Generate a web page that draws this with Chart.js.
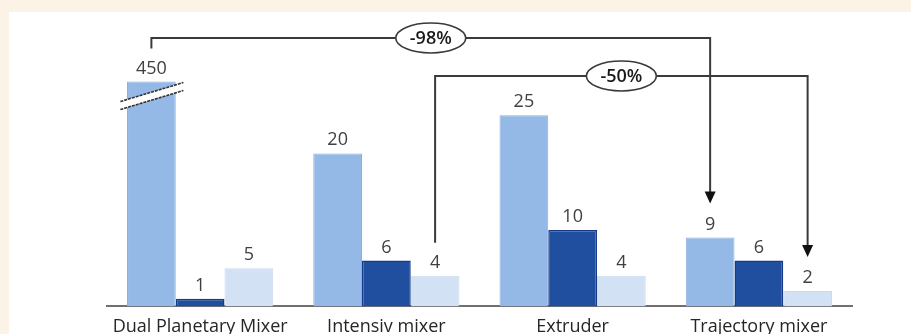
<!DOCTYPE html>
<html>
<head>
<meta charset="utf-8">
<script src="https://cdn.jsdelivr.net/npm/chart.js@4.4.1/dist/chart.umd.min.js"></script>
<style>
  html, body { margin:0; padding:0; width:911px; height:334px; overflow:hidden; background:#faf3e6; }
  #panel { position:absolute; left:9px; top:12px; right:0; bottom:0; background:#ffffff; }
  #c { position:absolute; left:0; top:0; }
</style>
</head>
<body>
<div id="panel"></div>
<canvas id="c" width="911" height="359"></canvas>
<script>
// ---- data ----
const categories = ["Dual Planetary Mixer", "Intensiv mixer", "Extruder", "Trajectory mixer"];
const seriesA = [450, 20, 25, 9];   // light blue
const seriesB = [1, 6, 10, 6];      // dark blue
const seriesC = [5, 4, 4, 2];       // pale blue
const brokenCap = 29.4;             // axis break: values above this are drawn cut
const yMax = 29.6;
const arrows = [
  { label: "-98%", from: [0, 0], to: [0, 3], lineY: 38 },
  { label: "-50%", from: [2, 1], to: [2, 3], lineY: 76 }
];

const FONT = "'Open Sans', 'Noto Sans', sans-serif";
const displayA = seriesA.map(v => Math.min(v, brokenCap));
const rawSeries = [seriesA, seriesB, seriesC];

const labelPlugin = {
  id: 'valueLabels',
  afterDatasetsDraw(chart) {
    const ctx = chart.ctx;
    ctx.save();
    ctx.font = "18px " + FONT;
    ctx.fillStyle = "#404040";
    ctx.textAlign = "center";
    ctx.textBaseline = "alphabetic";
    chart.data.datasets.forEach((ds, di) => {
      chart.getDatasetMeta(di).data.forEach((bar, i) => {
        ctx.fillText(String(rawSeries[di][i]), bar.x, bar.y - 8);
      });
    });
    ctx.restore();
  }
};

const breakPlugin = {
  id: 'axisBreak',
  afterDatasetsDraw(chart) {
    const ctx = chart.ctx;
    chart.data.datasets[0].data.forEach((v, i) => {
      if (seriesA[i] <= brokenCap) return;
      const bar = chart.getDatasetMeta(0).data[i];
      const x0 = bar.x - 31, x1 = bar.x + 32, t = bar.y;
      ctx.save();
      ctx.fillStyle = "#ffffff";
      ctx.beginPath();
      ctx.moveTo(x0, t + 20); ctx.lineTo(x1, t + 1);
      ctx.lineTo(x1, t + 9); ctx.lineTo(x0, t + 28);
      ctx.closePath(); ctx.fill();
      ctx.strokeStyle = "#333333";
      ctx.lineWidth = 1.6;
      ctx.setLineDash([3, 1]);
      ctx.beginPath(); ctx.moveTo(x0, t + 20); ctx.lineTo(x1, t + 1); ctx.stroke();
      ctx.beginPath(); ctx.moveTo(x0, t + 28); ctx.lineTo(x1, t + 9); ctx.stroke();
      ctx.restore();
    });
  }
};

const arrowPlugin = {
  id: 'changeArrows',
  afterDraw(chart) {
    const ctx = chart.ctx;
    arrows.forEach(a => {
      const b0 = chart.getDatasetMeta(a.from[0]).data[a.from[1]];
      const b1 = chart.getDatasetMeta(a.to[0]).data[a.to[1]];
      const xs = b0.x, ys = b0.y - 33;
      const xe = b1.x, ye = b1.y - 34;
      const y = a.lineY;
      ctx.save();
      ctx.strokeStyle = "#3a3a3a";
      ctx.lineWidth = 2;
      ctx.beginPath();
      ctx.moveTo(xs, ys); ctx.lineTo(xs, y); ctx.lineTo(xe, y); ctx.lineTo(xe, ye - 10);
      ctx.stroke();
      ctx.fillStyle = "#111111";
      ctx.beginPath();
      ctx.moveTo(xe - 5.5, ye - 12); ctx.lineTo(xe + 5.5, ye - 12); ctx.lineTo(xe, ye);
      ctx.closePath(); ctx.fill();
      const cx = (xs + xe) / 2;
      ctx.fillStyle = "#ffffff";
      ctx.lineWidth = 1.6;
      ctx.beginPath();
      ctx.ellipse(cx, y, 35, 15, 0, 0, Math.PI * 2);
      ctx.fill(); ctx.stroke();
      ctx.fillStyle = "#1a1a1a";
      ctx.font = "600 18px " + FONT;
      ctx.textAlign = "center";
      ctx.textBaseline = "middle";
      ctx.fillText(a.label, cx, y + 1);
      ctx.restore();
    });
  }
};

new Chart(document.getElementById('c'), {
  type: 'bar',
  data: {
    labels: categories,
    datasets: [
      { data: displayA, backgroundColor: "#95b9e6", borderColor: "#8aafdf", borderWidth: 1 },
      { data: seriesB, backgroundColor: "#1f4f9e", borderColor: "#153a8a", borderWidth: 1.5 },
      { data: seriesC, backgroundColor: "#d2e1f4", borderColor: "#c9daf1", borderWidth: 1 }
    ]
  },
  options: {
    responsive: false,
    animation: false,
    events: [],
    layout: { padding: { left: 107, right: 59, top: 80, bottom: 11 } },
    plugins: { legend: { display: false }, tooltip: { enabled: false } },
    datasets: { bar: { categoryPercentage: 0.785, barPercentage: 1 } },
    scales: {
      y: { display: false, min: 0, max: yMax },
      x: {
        grid: { display: false, drawTicks: false },
        border: { display: true, color: "#707070", width: 2 },
        ticks: { color: "#262626", padding: 10, font: { family: FONT, size: 18 } }
      }
    }
  },
  plugins: [labelPlugin, breakPlugin, arrowPlugin]
});
</script>
</body>
</html>
